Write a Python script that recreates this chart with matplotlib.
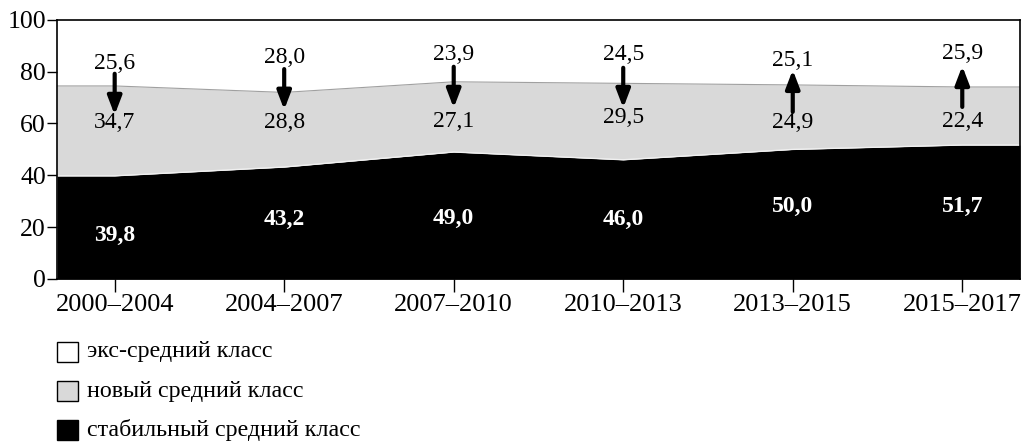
import matplotlib
matplotlib.use("Agg")
import matplotlib.pyplot as plt
from matplotlib.patches import Rectangle

plt.rcParams['font.family'] = ['Liberation Serif', 'DejaVu Serif']

periods = ["2000–2004", "2004–2007", "2007–2010", "2010–2013", "2013–2015", "2015–2017"]
stable = [39.8, 43.2, 49.0, 46.0, 50.0, 51.7]
new_mc = [34.7, 28.8, 27.1, 29.5, 24.9, 22.4]
ex_mc = [25.6, 28.0, 23.9, 24.5, 25.1, 25.9]
labels_stable = ["39,8", "43,2", "49,0", "46,0", "50,0", "51,7"]
labels_new = ["34,7", "28,8", "27,1", "29,5", "24,9", "22,4"]
labels_ex = ["25,6", "28,0", "23,9", "24,5", "25,1", "25,9"]
arrow_up = [False, False, False, False, True, True]
legend_names = ["экс-средний класс", "новый средний класс", "стабильный средний класс"]

# label layout (data y)
y_ex_lbl = [83.0, 85.3, 86.5, 86.5, 84.2, 86.9]
y_new_lbl = [60.2, 60.2, 60.6, 62.2, 60.2, 60.6]
y_st_lbl = [16.6, 22.8, 23.5, 22.8, 27.8, 27.8]
arr_top = [79.2, 81.0, 81.9, 81.5, 80.7, 82.2]
arr_bot = [63.3, 65.3, 66.0, 66.0, 64.5, 66.4]

fig = plt.figure(figsize=(10.24, 4.42), dpi=100)
ax = fig.add_axes([0.0557, 0.369, 0.9403, 0.586])

xl, xr = -0.34, 5.34
n = len(periods)
xs = [xl] + list(range(n)) + [xr]
st = [stable[0]] + stable + [stable[-1]]
top = [s + g for s, g in zip(stable, new_mc)]
tp = [top[0]] + top + [top[-1]]

ax.fill_between(xs, 0, st, color="black", lw=0)
ax.fill_between(xs, st, tp, color="#d9d9d9", lw=0)
ax.plot(xs, st, color="#f0f0f0", lw=1)
ax.plot(xs, tp, color="#a0a0a0", lw=0.8)

for i in range(n):
    ax.text(i, y_ex_lbl[i], labels_ex[i], ha="center", va="center", fontsize=17)
    ax.text(i, y_new_lbl[i], labels_new[i], ha="center", va="center", fontsize=17)
    ax.text(i, y_st_lbl[i], labels_stable[i], ha="center", va="center", fontsize=17,
            color="white", fontweight="bold")
    if arrow_up[i]:
        start, end = arr_bot[i], arr_top[i]
    else:
        start, end = arr_top[i], arr_bot[i]
    ax.annotate("", xy=(i, end), xytext=(i, start),
                arrowprops=dict(arrowstyle="-|>,head_length=1.1,head_width=0.42",
                                color="black", lw=3.0, shrinkA=0, shrinkB=0))

ax.set_xlim(xl, xr)
ax.set_ylim(0, 100)
ax.set_xticks(range(n))
ax.set_xticklabels(periods, fontsize=19)
ax.set_yticks([0, 20, 40, 60, 80, 100])
ax.tick_params(axis="y", labelsize=18.5, direction="out", length=7, width=1, pad=1)
ax.tick_params(axis="x", direction="out", length=9, width=1, pad=2)
for sp in ax.spines.values():
    sp.set_linewidth(1.2)

# legend
colors = ["white", "#d9d9d9", "black"]
ys = [352, 391, 430]
for c, name, yp in zip(colors, legend_names, ys):
    yf = 1 - yp / 442
    fig.patches.append(Rectangle((57 / 1024, yf - 10 / 442), 21 / 1024, 20 / 442,
                                 transform=fig.transFigure, facecolor=c,
                                 edgecolor="black", lw=1))
    fig.text(87 / 1024, yf, name, ha="left", va="center", fontsize=17.3)

fig.savefig("out.png", dpi=100)
